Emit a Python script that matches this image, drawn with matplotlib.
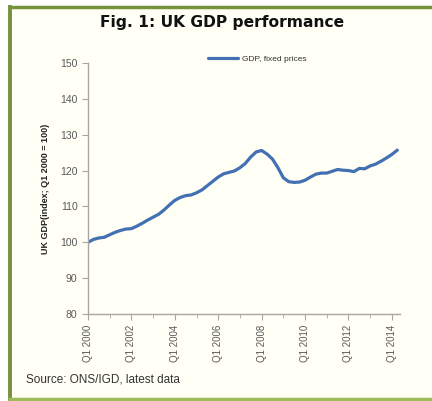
import numpy as np
import matplotlib
matplotlib.use("Agg")
import matplotlib.pyplot as plt
import matplotlib.lines as lines
import matplotlib.patches as patches

# quarterly GDP index, Q1 2000 = 100
gdp = [100.0, 100.8, 101.2, 101.4, 102.1, 102.8, 103.3, 103.7,
       103.8, 104.5, 105.3, 106.2, 107.0, 107.8, 109.0, 110.4,
       111.7, 112.5, 113.0, 113.2, 113.8, 114.6, 115.8, 117.0,
       118.2, 119.1, 119.5, 119.9, 120.8, 122.0, 123.8, 125.2,
       125.6, 124.6, 123.2, 120.8, 118.0, 116.9, 116.7, 116.8,
       117.3, 118.2, 119.0, 119.3, 119.3, 119.8, 120.3, 120.1,
       120.0, 119.7, 120.6, 120.5, 121.3, 121.8, 122.6, 123.5,
       124.5, 125.7]
years = list(range(2000, 2015, 2))
tick_labels = ["Q1 %d" % y for y in years]
series_name = "GDP, fixed prices"

W, H = 432, 401
fig = plt.figure(figsize=(W / 100, H / 100), dpi=100)
fig.patch.set_facecolor("white")

# cream panel with green frame
fig.add_artist(patches.Rectangle((10 / W, 1 - 399 / H), 1, (399 - 7) / H,
                                 transform=fig.transFigure,
                                 facecolor="#fffff5", edgecolor="none", zorder=0))
green = "#76923c"
fig.add_artist(lines.Line2D([10 / W, 1], [1 - 7 / H, 1 - 7 / H], color=green, lw=2.5))
fig.add_artist(lines.Line2D([10 / W, 10 / W], [1 - 7 / H, 1 - 399 / H], color=green, lw=2.8))
fig.add_artist(lines.Line2D([10 / W, 1], [1 - 399 / H, 1 - 399 / H], color="#9bbb59", lw=2.5))

ax = fig.add_axes([88 / W, 1 - 314 / H, 312 / W, 251 / H])
ax.set_facecolor("none")

x = np.arange(len(gdp))
ax.plot(x, gdp, color="#4270b2", lw=2.3, solid_capstyle="round",
        solid_joinstyle="round", label=series_name)

ax.set_xlim(0, 57.5)
ax.set_ylim(80, 150)
ax.set_yticks(range(80, 151, 10))
ax.set_xticks([(y - 2000) * 4 for y in years])
ax.set_xticklabels(tick_labels, rotation=90)
ax.set_xticks(range(0, 58, 4), minor=True)

for s in ["top", "right"]:
    ax.spines[s].set_visible(False)
for s in ["left", "bottom"]:
    ax.spines[s].set_color("#a6a6a6")
    ax.spines[s].set_linewidth(1)

ax.tick_params(axis="both", which="both", direction="out", length=4,
               color="#a6a6a6", labelcolor="#595959", labelsize=7)
ax.tick_params(axis="y", labelsize=7.5)
ax.tick_params(axis="x", which="minor", length=3)
for t in ax.get_xticklabels() + ax.get_yticklabels():
    t.set_family("Liberation Sans")

ax.set_ylabel("UK GDP(index; Q1 2000 = 100)", family="Liberation Sans",
              fontsize=6.5, fontweight="bold", color="#222222", labelpad=7)

leg = ax.legend(loc="upper left", bbox_to_anchor=(0.36, 1.06), frameon=False,
                handlelength=3.6, handletextpad=0.5,
                prop={"family": "Liberation Sans", "size": 6})
for t in leg.get_texts():
    t.set_color("#333333")

fig.text(222 / W, 1 - 22 / H, "Fig. 1: UK GDP performance", ha="center",
         va="center", fontsize=11.2, fontweight="bold", color="#111111")
fig.text(26 / W, 1 - 379 / H, "Source: ONS/IGD, latest data", ha="left",
         va="center", fontsize=8.5, family="Liberation Sans", color="#333333")

fig.savefig("out.png", dpi=100)
